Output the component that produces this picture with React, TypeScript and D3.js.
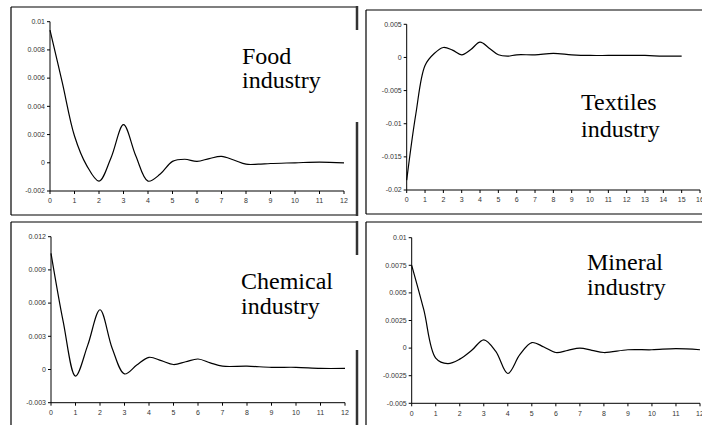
import React from "react";
import * as d3 from "d3";

// ---------- data ----------
const foodX = [0, 0.5, 1, 1.5, 2, 2.5, 3, 3.5, 4, 4.5, 5, 5.5, 6, 6.5, 7, 7.5, 8, 8.5, 9, 10, 11, 12];
const foodY = [0.0094, 0.0057, 0.0019, -0.0002, -0.0013, 0.0004, 0.0027, 0.0005, -0.0013, -0.0008, 0.0001, 0.00025, 0.0001, 0.0003, 0.00045, 0.0002, -0.0001, -0.0001, -0.00005, 0, 0.00005, 0];

const textX = [0, 0.5, 1, 1.5, 2, 2.5, 3, 3.5, 4, 4.5, 5, 5.5, 6, 7, 8, 9, 10, 11, 12, 13, 14, 15];
const textY = [-0.0185, -0.0085, -0.0012, 0.0006, 0.0015, 0.0011, 0.0004, 0.0012, 0.0023, 0.0014, 0.0004, 0.0002, 0.0004, 0.0004, 0.0006, 0.0004, 0.0003, 0.0003, 0.0003, 0.0003, 0.0002, 0.0002];

const chemX = [0, 0.5, 1, 1.5, 2, 2.5, 3, 3.5, 4, 4.5, 5, 5.5, 6, 6.5, 7, 8, 9, 10, 11, 12];
const chemY = [0.0105, 0.0043, -0.0006, 0.0022, 0.0054, 0.0019, -0.0004, 0.0004, 0.0011, 0.0008, 0.00045, 0.0007, 0.00095, 0.0006, 0.0003, 0.0003, 0.0002, 0.0002, 0.0001, 0.0001];

const minX = [0, 0.5, 1, 1.5, 2, 2.5, 3, 3.5, 4, 4.5, 5, 5.5, 6, 6.5, 7, 7.5, 8, 9, 10, 11, 12];
const minY = [0.0075, 0.0035, -0.0009, -0.0014, -0.001, -0.0002, 0.00075, -0.0003, -0.0023, -0.0006, 0.0005, 0.0001, -0.0004, -0.0002, 0, -0.0002, -0.0004, -0.00015, -0.00015, -0.00005, -0.00015];

const foodYTicks = [-0.002, 0, 0.002, 0.004, 0.006, 0.008, 0.01];
const textYTicks = [-0.02, -0.015, -0.01, -0.005, 0, 0.005];
const chemYTicks = [-0.003, 0, 0.003, 0.006, 0.009, 0.012];
const minYTicks = [-0.005, -0.0025, 0, 0.0025, 0.005, 0.0075, 0.01];

const foodXTicks = d3.range(0, 13);
const textXTicks = d3.range(0, 17);
const chemXTicks = d3.range(0, 13);
const minXTicks = d3.range(0, 13);

const foodLabel = ["Food", "industry"];
const textLabel = ["Textiles", "industry"];
const chemLabel = ["Chemical", "industry"];
const minLabel = ["Mineral", "industry"];

// ---------- layout ----------
type PanelProps = {
  xs: number[];
  ys: number[];
  xDomain: [number, number];
  yDomain: [number, number];
  xRange: [number, number];
  yRange: [number, number];
  xTicks: number[];
  yTicks: number[];
  label: string[];
  labelX: number;
  labelY: number;
  lineGap: number;
};

const tickFont = "'Liberation Sans', Arial, sans-serif";
const labelFont = "'Liberation Serif', 'Times New Roman', serif";

function Panel(p: PanelProps) {
  const x = d3.scaleLinear().domain(p.xDomain).range(p.xRange);
  const y = d3.scaleLinear().domain(p.yDomain).range(p.yRange);
  const line = d3
    .line<number>()
    .x((_, i) => x(p.xs[i]))
    .y((d) => y(d))
    .curve(d3.curveCatmullRom.alpha(0.5));
  const x0 = p.xRange[0];
  const yb = p.yRange[0];
  return (
    <g>
      <line x1={x0} x2={x0} y1={p.yRange[0]} y2={p.yRange[1]} stroke="#000" strokeWidth={1} />
      {p.yTicks.map((t) => (
        <g key={"y" + t}>
          <line x1={x0 - 3} x2={x0} y1={y(t)} y2={y(t)} stroke="#000" strokeWidth={1} />
          <text
            x={x0 - 5}
            y={y(t)}
            dy="0.33em"
            textAnchor="end"
            fontSize={7}
            fontFamily={tickFont}
            fill="#333"
          >
            {String(t)}
          </text>
        </g>
      ))}
      <line x1={p.xRange[0]} x2={p.xRange[1]} y1={yb} y2={yb} stroke="#000" strokeWidth={1} />
      {p.xTicks.map((t) => (
        <g key={"x" + t}>
          <line x1={x(t)} x2={x(t)} y1={yb} y2={yb + 3} stroke="#000" strokeWidth={1} />
          <text
            x={x(t)}
            y={yb + 10}
            dy="0.33em"
            textAnchor="middle"
            fontSize={7}
            fontFamily={tickFont}
            fill="#333"
          >
            {String(t)}
          </text>
        </g>
      ))}
      <path d={line(p.ys) || ""} fill="none" stroke="#000" strokeWidth={1.2} />
      {p.label.map((s, i) => (
        <text
          key={s + i}
          x={p.labelX}
          y={p.labelY + i * p.lineGap}
          fontSize={24}
          fontFamily={labelFont}
          fill="#000"
        >
          {s}
        </text>
      ))}
    </g>
  );
}

function Frames() {
  const thin = { stroke: "#000", strokeWidth: 1.2 };
  const thick = { stroke: "#333", strokeWidth: 2.5 };
  return (
    <g fill="none">
      <line x1={11} x2={357} y1={7} y2={7} {...thin} />
      <line x1={11} x2={11} y1={7} y2={215} {...thin} />
      <line x1={11} x2={357} y1={215} y2={215} {...thin} />
      <line x1={357} x2={357} y1={6} y2={30} {...thick} />
      <line x1={357} x2={357} y1={122} y2={216} {...thick} />
      <line x1={366} x2={702} y1={10} y2={10} {...thin} />
      <line x1={366} x2={366} y1={10} y2={214} {...thin} />
      <line x1={366} x2={702} y1={214} y2={214} {...thin} />
      <line x1={11} x2={357} y1={222} y2={222} {...thin} />
      <line x1={11} x2={11} y1={222} y2={425} {...thin} />
      <line x1={357} x2={357} y1={221} y2={255} {...thick} />
      <line x1={357} x2={357} y1={350} y2={425} {...thick} />
      <line x1={366} x2={702} y1={222} y2={222} {...thin} />
      <line x1={366} x2={366} y1={222} y2={425} {...thin} />
    </g>
  );
}

export default function App() {
  return (
    <svg
      width={702}
      height={425}
      style={{ position: "absolute", left: 0, top: 0, background: "#fff" }}
    >
      <rect x={0} y={0} width={702} height={425} fill="#fff" />
      <Frames />
      <Panel
        xs={foodX}
        ys={foodY}
        xDomain={[0, 12]}
        yDomain={[-0.002, 0.01]}
        xRange={[50, 344]}
        yRange={[191, 21.7]}
        xTicks={foodXTicks}
        yTicks={foodYTicks}
        label={foodLabel}
        labelX={242}
        labelY={64}
        lineGap={24}
      />
      <Panel
        xs={textX}
        ys={textY}
        xDomain={[0, 16]}
        yDomain={[-0.02, 0.005]}
        xRange={[406.7, 700]}
        yRange={[190, 24.3]}
        xTicks={textXTicks}
        yTicks={textYTicks}
        label={textLabel}
        labelX={581}
        labelY={110}
        lineGap={27}
      />
      <Panel
        xs={chemX}
        ys={chemY}
        xDomain={[0, 12]}
        yDomain={[-0.003, 0.012]}
        xRange={[51, 345]}
        yRange={[402.7, 236.7]}
        xTicks={chemXTicks}
        yTicks={chemYTicks}
        label={chemLabel}
        labelX={241}
        labelY={289}
        lineGap={25}
      />
      <Panel
        xs={minX}
        ys={minY}
        xDomain={[0, 12]}
        yDomain={[-0.005, 0.01]}
        xRange={[411.7, 700]}
        yRange={[403.3, 237.7]}
        xTicks={minXTicks}
        yTicks={minYTicks}
        label={minLabel}
        labelX={587}
        labelY={270}
        lineGap={25}
      />
    </svg>
  );
}
